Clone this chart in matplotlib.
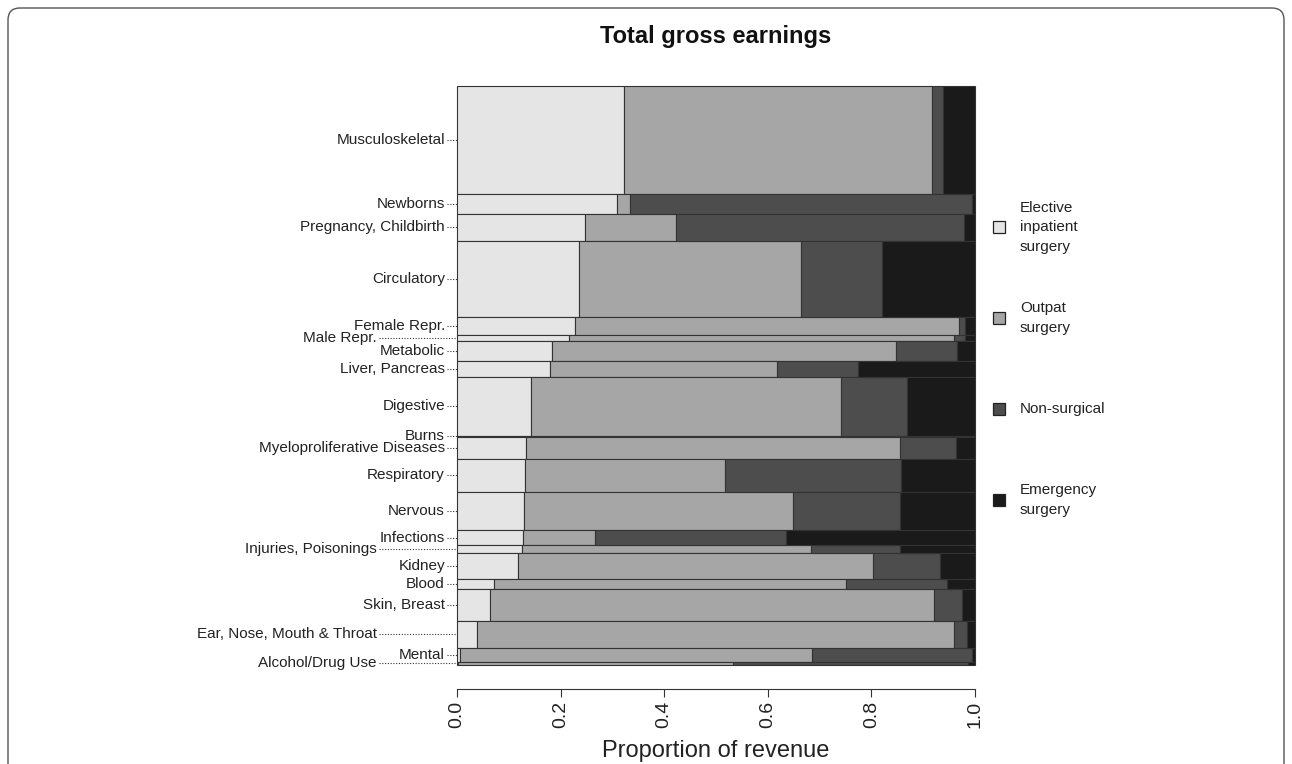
import numpy as np
import matplotlib
matplotlib.use("Agg")
import matplotlib.pyplot as plt
import matplotlib.patches as mpatches
import matplotlib.transforms as mtrans

plt.rcParams["font.family"] = ["Liberation Sans", "DejaVu Sans"]

# Categories, top to bottom (sorted by elective share)
categories = ["Musculoskeletal", "Newborns", "Pregnancy, Childbirth", "Circulatory",
              "Female Repr.", "Male Repr.", "Metabolic", "Liver, Pancreas", "Digestive",
              "Burns", "Myeloproliferative Diseases", "Respiratory", "Nervous",
              "Infections", "Injuries, Poisonings", "Kidney", "Blood", "Skin, Breast",
              "Ear, Nose, Mouth & Throat", "Mental", "Alcohol/Drug Use"]

# Share of total gross earnings (%), sets bar thickness
earnings_share = [18.65, 3.45, 4.66, 13.13, 3.11, 1.04, 3.45, 2.76, 10.14, 0.17, 3.80,
                  5.70, 6.56, 2.71, 1.31, 4.49, 1.73, 5.47, 4.66, 2.47, 0.52]

# Proportion of revenue per type
elective = [0.322, 0.308, 0.247, 0.2356, 0.228, 0.217, 0.184, 0.179, 0.1435, 0.138, 0.134,
            0.132, 0.1286, 0.1266, 0.1246, 0.1185, 0.071, 0.063, 0.038, 0.005, 0.001]
outpat = [0.595, 0.0265, 0.176, 0.428, 0.742, 0.743, 0.664, 0.439, 0.5985, 0.60, 0.721,
          0.385, 0.520, 0.139, 0.558, 0.685, 0.679, 0.857, 0.921, 0.680, 0.532]
nonsurg = [0.021, 0.660, 0.555, 0.157, 0.011, 0.021, 0.118, 0.157, 0.1265, 0.16, 0.108,
           0.340, 0.206, 0.370, 0.172, 0.128, 0.196, 0.054, 0.026, 0.309, 0.453]
emergency = [0.062, 0.0054, 0.022, 0.179, 0.019, 0.019, 0.034, 0.225, 0.1315, 0.102, 0.037,
             0.143, 0.145, 0.364, 0.145, 0.068, 0.054, 0.026, 0.015, 0.006, 0.014]

series_names = ["Elective\ninpatient\nsurgery", "Outpat\nsurgery", "Non-surgical",
                "Emergency\nsurgery"]
colors = ["#e5e5e5", "#a6a6a6", "#4d4d4d", "#1a1a1a"]

# labels drawn further left to avoid overlap
far_labels = ["Male Repr.", "Injuries, Poisonings", "Ear, Nose, Mouth & Throat",
              "Alcohol/Drug Use"]

fig = plt.figure(figsize=(12.92, 7.64), dpi=100)
ax = fig.add_axes([457 / 1292, 1 - 665 / 764, 518 / 1292, 579 / 764])

heights = np.array(earnings_share)
tops = np.concatenate([[0], np.cumsum(heights)[:-1]])
centers = tops + heights / 2

data = np.array([elective, outpat, nonsurg, emergency])
lefts = np.vstack([np.zeros(len(categories)), np.cumsum(data, axis=0)[:-1]])

for i in range(4):
    ax.barh(centers, data[i], height=heights, left=lefts[i], color=colors[i],
            edgecolor="#333333", linewidth=0.8, clip_on=False)

ax.set_xlim(0, 1)
ax.set_ylim(heights.sum(), 0)

# category labels with dotted leaders
trans = mtrans.blended_transform_factory(ax.transAxes, ax.transData)
for cat, yc in zip(categories, centers):
    xr = (377 - 457) / 518 if cat in far_labels else (445 - 457) / 518
    ax.text(xr, yc, cat, transform=trans, ha="right", va="center", fontsize=11,
            color="#222222")
    ax.plot([xr + 0.003, 0], [yc, yc], transform=trans, color="#333333",
            linestyle=(0, (1, 1.5)), linewidth=0.8, clip_on=False)

ax.set_yticks([])
for s in ["left", "top", "right"]:
    ax.spines[s].set_visible(False)
ax.spines["bottom"].set_position(("outward", 17.3))
ax.spines["bottom"].set_color("#333333")
ax.set_xticks(np.arange(0, 1.01, 0.2))
ax.set_xticklabels([f"{t:.1f}" for t in np.arange(0, 1.01, 0.2)], rotation=90,
                   fontsize=14, color="#222222")
ax.tick_params(axis="x", length=5.8, color="#333333", pad=3)
ax.set_xlabel("Proportion of revenue", fontsize=17, color="#222222", labelpad=8)

fig.text(716 / 1292, 1 - 36 / 764, "Total gross earnings", ha="center", va="center",
         fontsize=17, fontweight="bold", color="#111111")

# legend on the right
legend_y = [227, 318, 409, 500]
for name, col, ly in zip(series_names, colors, legend_y):
    sq = mpatches.Rectangle((993 / 1292, 1 - (ly + 6) / 764), 12 / 1292, 12 / 764,
                            transform=fig.transFigure, facecolor=col,
                            edgecolor="#222222", linewidth=0.9)
    fig.patches.append(sq)
    fig.text(1020 / 1292, 1 - ly / 764, name, ha="left", va="center", fontsize=11,
             color="#222222", linespacing=1.5)

# rounded outer frame
frame = mpatches.FancyBboxPatch((8, -30), 1276, 756 + 30, boxstyle="round,pad=0,rounding_size=12",
                                transform=mtrans.IdentityTransform(), facecolor="none",
                                edgecolor="#555555", linewidth=1.0)
fig.patches.append(frame)

fig.savefig("out.png", dpi=100)
